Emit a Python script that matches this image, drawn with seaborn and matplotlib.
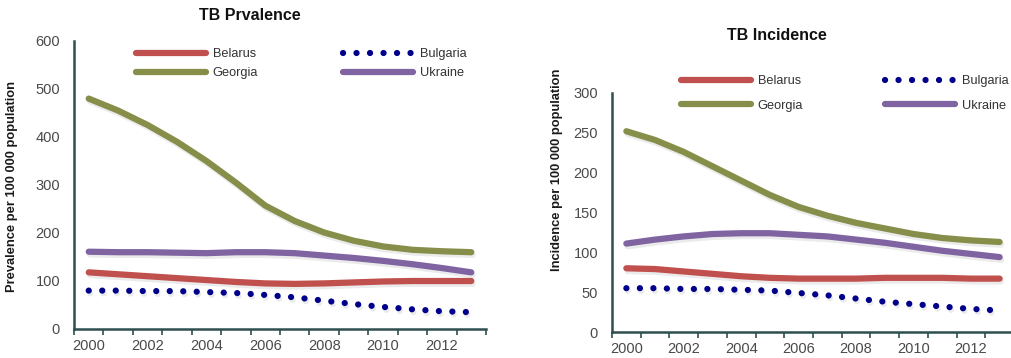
import matplotlib
matplotlib.use("Agg")
import matplotlib.pyplot as plt
import matplotlib.patheffects as pe
import seaborn as sns
import pandas as pd
from matplotlib.lines import Line2D

years = list(range(2000, 2014))
countries = ["Belarus", "Bulgaria", "Georgia", "Ukraine"]

prev_belarus = [118, 114, 110, 106, 102, 98, 95, 94, 95, 97, 99, 100, 100, 100]
prev_bulgaria = [80, 80, 79, 79, 77, 75, 71, 66, 59, 52, 46, 41, 37, 35]
prev_georgia = [480, 455, 425, 390, 350, 305, 257, 225, 201, 184, 172, 165, 162, 160]
prev_ukraine = [161, 160, 160, 159, 158, 160, 160, 158, 153, 148, 142, 135, 127, 118]

inc_belarus = [80, 79, 76, 73, 70, 68, 67, 67, 67, 68, 68, 68, 67, 67]
inc_bulgaria = [55, 55, 54, 54, 53, 52, 49, 46, 42, 38, 35, 32, 29, 27]
inc_georgia = [252, 241, 226, 208, 190, 172, 157, 146, 137, 130, 123, 118, 115, 113]
inc_ukraine = [111, 116, 120, 123, 124, 124, 122, 120, 116, 112, 107, 102, 98, 94]

xtick_labels = ["2000", "2002", "2004", "2006", "2008", "2010", "2012"]

colors = {"Belarus": "#c0504d", "Bulgaria": "#00008b", "Georgia": "#868e4a", "Ukraine": "#8064a2"}

def long_df(vals):
    rows = []
    for c, v in zip(countries, vals):
        for y, val in zip(years, v):
            rows.append({"year": y, "country": c, "value": val})
    return pd.DataFrame(rows)

df_prev = long_df([prev_belarus, prev_bulgaria, prev_georgia, prev_ukraine])
df_inc = long_df([inc_belarus, inc_bulgaria, inc_georgia, inc_ukraine])

sns.set_theme(style="white")
plt.rcParams["font.family"] = ["Liberation Sans", "DejaVu Sans"]

W, H = 1011, 358
fig = plt.figure(figsize=(W / 100, H / 100), dpi=100)

def fx(px):
    return px / W

def fy(py):
    return 1 - py / H

LW = 4.5
spine_c = "#2f4f4f"
tick_c = "#4a4a4a"
DOT = (0.01, 2.15)

def make_ax(rect, df, ylim, yticks, ylabel, label_coords, leg_x1, leg_x2, leg_y, lspace):
    ax = fig.add_axes(rect)
    for c in countries:
        sub = df[df.country == c]
        sns.lineplot(data=sub, x="year", y="value", ax=ax, color=colors[c], lw=LW,
                     legend=False)
    shadow = [pe.SimpleLineShadow(offset=(1.0, -2.0), shadow_color="#000000", alpha=0.08),
              pe.Normal()]
    for c, ln in zip(countries, ax.lines):
        ln.set_solid_capstyle("round")
        ln.set_path_effects(shadow)
        if c == "Bulgaria":
            ln.set_dashes(DOT)
            ln.set_dash_capstyle("round")
    ax.set_xlim(1999.5, 2013.5)
    ax.set_ylim(*ylim)
    ax.set_xticks([y - 0.5 for y in range(2000, 2015)])
    ax.set_xticklabels([])
    ax.set_xticks([int(t) for t in xtick_labels], minor=True)
    ax.set_xticklabels(xtick_labels, minor=True)
    ax.tick_params(axis="x", which="major", direction="out", length=4, width=1.2,
                   color=spine_c, bottom=True)
    ax.tick_params(axis="x", which="minor", length=0, pad=7, labelsize=10.5, labelcolor=tick_c)
    ax.set_yticks(yticks)
    ax.set_yticklabels([str(t) for t in yticks])
    ax.tick_params(axis="y", length=0, pad=10, labelsize=10.5, labelcolor=tick_c)
    for s in ["top", "right"]:
        ax.spines[s].set_visible(False)
    for s in ["left", "bottom"]:
        ax.spines[s].set_color(spine_c)
        ax.spines[s].set_linewidth(1.8)
    ax.set_xlabel("")
    ax.set_ylabel(ylabel, fontsize=9.3, fontweight="bold", color="#1a1a1a")
    ax.yaxis.set_label_coords(*label_coords)
    ax.grid(False)

    def handle(c):
        h = Line2D([], [], color=colors[c], lw=LW, solid_capstyle="round")
        if c == "Bulgaria":
            h.set_dashes(DOT)
            h.set_dash_capstyle("round")
        return h
    kw = dict(frameon=False, loc="upper left", borderpad=0, borderaxespad=0,
              handlelength=5.5, handletextpad=0.5, labelspacing=lspace,
              prop={"size": 9.2}, labelcolor="#333333", bbox_transform=fig.transFigure)
    l1 = ax.legend([handle("Belarus"), handle("Georgia")], ["Belarus", "Georgia"],
                   bbox_to_anchor=(fx(leg_x1), fy(leg_y)), **kw)
    ax.add_artist(l1)
    ax.legend([handle("Bulgaria"), handle("Ukraine")], ["Bulgaria", "Ukraine"],
              bbox_to_anchor=(fx(leg_x2), fy(leg_y)), **kw)
    return ax

ax1 = make_ax([fx(74), fy(329), fx(486) - fx(74), fy(41) - fy(329)], df_prev,
              (0, 600), [0, 100, 200, 300, 400, 500, 600],
              "Prevalence per 100 000 population", (-0.135, 0.495), 136, 343, 48, 0.55)
ax2 = make_ax([fx(612), fy(332), fx(1014) - fx(612), fy(93) - fy(332)], df_inc,
              (0, 300), [0, 50, 100, 150, 200, 250, 300],
              "Incidence per 100 000 population", (-0.122, 0.68), 681, 885, 75, 1.0)

fig.text(fx(250), fy(16), "TB Prvalence", ha="center", va="center", fontsize=11.5,
         fontweight="bold", color="#111111")
fig.text(fx(777), fy(36), "TB Incidence", ha="center", va="center", fontsize=11.5,
         fontweight="bold", color="#111111")

fig.savefig("out.png", dpi=100)
